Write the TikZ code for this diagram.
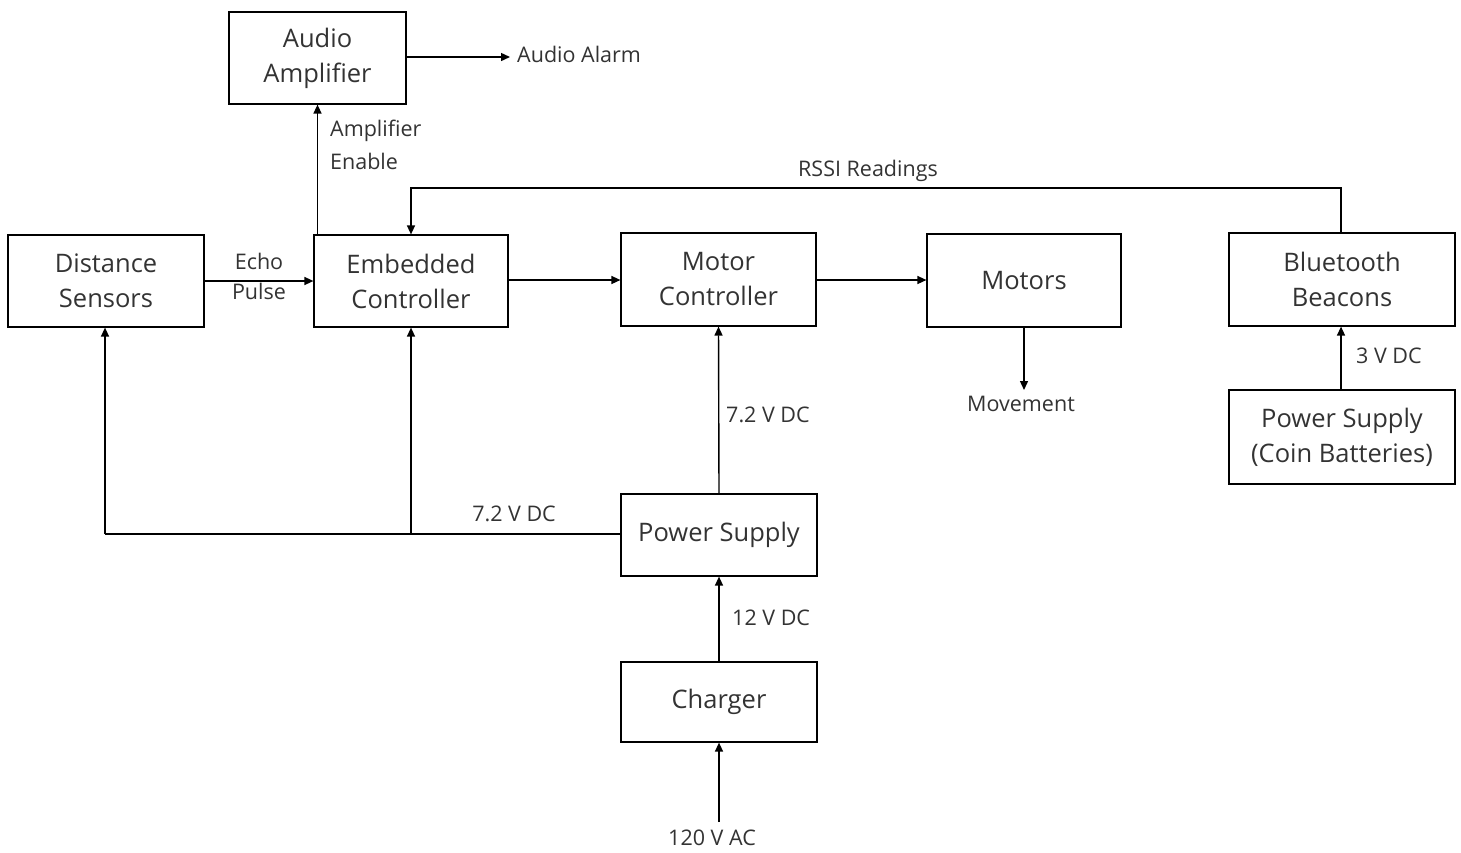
\documentclass[tikz,border=0pt]{standalone}
\usepackage{fontspec}
\setmainfont{Open Sans}
\usetikzlibrary{arrows.meta,positioning}
\definecolor{txt}{HTML}{333333}
\tikzset{
  blk/.style={draw=black, line width=1.2pt, minimum width=#1, inner sep=0pt, align=center, text=txt,
    font=\fontsize{25.5}{35}\selectfont},
  blk/.default={195pt},
  lbl/.style={text=txt, font=\fontsize{21.5}{30}\selectfont, inner sep=0pt, align=left},
  conn/.style={line width=1.4pt, -{Triangle[length=9pt,width=8pt]}},
  wire/.style={line width=1.4pt},
}
\begin{document}
\begin{tikzpicture}[x=1pt,y=-1pt]
\useasboundingbox (0,0) rectangle (1461,852);
% boxes
\node[blk=177pt, minimum height=92pt] (amp) at (317.5,58) {Audio\\Amplifier};
\node[blk=196pt, minimum height=92pt] (dist) at (106,281) {Distance\\Sensors};
\node[blk=194pt, minimum height=92pt] (emb) at (411,281) {Embedded\\Controller};
\node[blk=195pt, minimum height=93pt] (mc) at (718.5,279.5) {Motor\\Controller};
\node[blk=194pt, minimum height=93pt] (mot) at (1024,280.5) {Motors};
\node[blk=226pt, minimum height=93pt] (bt) at (1342,279.5) {Bluetooth\\Beacons};
\node[blk=226pt, minimum height=94pt] (coin) at (1342,437) {Power Supply\\(Coin Batteries)};
\node[blk=196pt, minimum height=82pt] (ps) at (719,535) {Power Supply};
\node[blk=196pt, minimum height=80pt] (chg) at (719,702) {Charger};
% free ends
\coordinate (alarm) at (510,57);
\coordinate (move) at (1024,390);
\coordinate (ac) at (719,822);
\coordinate (rssiR) at (1341,188);
\coordinate (rssiL) at (411,188);
\coordinate (busL) at (105,534);
\coordinate (busM) at (411,534);
% labels
\node[lbl, anchor=west] (alarmtxt) at (517,54) {Audio Alarm};
\node[lbl, anchor=west] (ampen) at (330,131) {Amplifier};
\node[lbl, anchor=west] (ampen2) at (330,161) {Enable};
\node[lbl] (rssitxt) at (868,171) {RSSI Readings};
\node[lbl] (echo) at (259,261) {Echo};
\node[lbl] (pulse) at (259,291) {Pulse};
\node[lbl] (movetxt) at (1021,404) {Movement};
\node[lbl, anchor=west] (v72a) at (726,415) {7.2 V DC};
\node[lbl] (v72b) at (514,514) {7.2 V DC};
\node[lbl, anchor=west] (v12) at (732,618) {12 V DC};
\node[lbl] (v120) at (712,838) {120 V AC};
\node[lbl, anchor=west] (v3) at (1356,356) {3 V DC};
% connectors
\draw[conn] (amp.east |- alarm) -- (alarm);
\draw[conn] (emb.north -| amp) -- (amp.south);
\draw[conn] (bt.north -| rssiR) -- (rssiR) -- (rssiL) -- (emb.north);
\draw[conn] (dist.east |- 0,281) -- (emb.west |- 0,281);
\draw[conn] (emb.east |- 0,280) -- (mc.west |- 0,280);
\draw[conn] (mc.east |- 0,280) -- (mot.west |- 0,280);
\draw[conn] (mot.south) -- (move);
\draw[conn] (ps.north) -- (mc.south);
\draw[wire] (ps.west |- busL) -- (busL);
\draw[conn] (busL) -- (dist.south -| busL);
\draw[conn] (busM) -- (emb.south);
\draw[conn] (chg.north) -- (ps.south);
\draw[conn] (ac) -- (chg.south);
\draw[conn] (coin.north -| rssiR) -- (bt.south -| rssiR);
\end{tikzpicture}
\end{document}
